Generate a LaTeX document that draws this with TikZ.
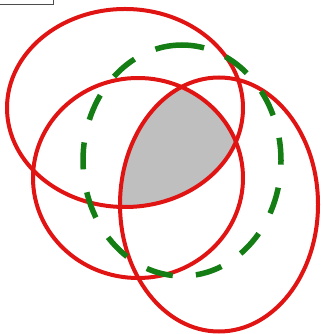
\documentclass[tikz,border=0pt]{standalone}
\usepackage{tikz}
\definecolor{ringred}{RGB}{225,20,20}
\definecolor{ringgreen}{RGB}{20,125,20}
\tikzset{
  redring/.style={draw=ringred, line width=4pt},
  greenring/.style={draw=ringgreen, line width=5.5pt, dash pattern=on 27pt off 23.2pt},
  shade region/.style={fill=gray!50},
  framebit/.style={draw=gray!60!black, line width=0.9pt}
}
\begin{document}
\begin{tikzpicture}[x=1pt,y=1pt]
\useasboundingbox (0,0) rectangle (322,334);
% intersection of the three red ellipses
\begin{scope}
  \clip (125,226) ellipse [x radius=118, y radius=99];
  \clip (138,156) ellipse [x radius=105, y radius=100];
  \fill[shade region] (219,129.5) ellipse [x radius=99, y radius=127];
\end{scope}
% red ellipses
\draw[redring] (125,226) ellipse [x radius=118, y radius=99];
\draw[redring] (138,156) ellipse [x radius=105, y radius=100];
\draw[redring] (219,129.5) ellipse [x radius=99, y radius=127];
% green dashed ellipse, starting at its top
\draw[greenring] (182,289) arc [start angle=90, end angle=450, x radius=99, y radius=115.5];
% partial frame at the top left corner
\draw[framebit] (0,329.5) -| (53,334);
\end{tikzpicture}
\end{document}
